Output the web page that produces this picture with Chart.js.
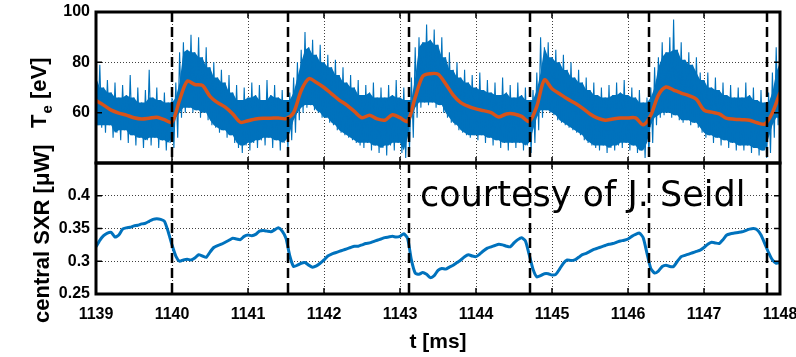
<!DOCTYPE html>
<html>
<head>
<meta charset="utf-8">
<script src="https://cdn.jsdelivr.net/npm/chart.js@4.4.0/dist/chart.umd.min.js"></script>
<style>
  html, body { margin: 0; padding: 0; background: #fff; }
  #wrap { position: relative; width: 796px; height: 357px; }
  #wrap canvas { position: absolute; left: 0; top: 0; }
</style>
</head>
<body>
<div id="wrap">
  <canvas id="sxrChart" width="796" height="357"></canvas>
  <canvas id="teChart" width="796" height="357"></canvas>
</div>
<script>
// time base of the raw signals (ms)
const tStart = 1139;
const rawStep = 0.05;
const smoothStep = 0.1;

// Te noisy signal: upper / lower swings every 0.05 ms [eV]
const teHigh = [
  74,79,70,73,68,72,66,71,67,75,66,70,64,69,77,66,70,65,68,64,
  66,72,84,88,85,91,84,90,82,86,78,80,74,77,72,75,68,71,65,70,
  66,72,67,71,65,73,67,71,66,69,65,68,74,80,85,92,86,89,83,87,
  80,83,78,81,75,78,72,75,70,73,67,71,68,72,66,70,66,71,67,73,
  66,70,65,74,86,90,88,95,89,93,87,90,82,84,77,80,74,77,72,75,
  70,76,69,73,68,72,67,74,68,71,66,72,67,70,65,69,76,90,86,88,
  82,85,80,83,77,80,74,77,72,74,69,72,67,70,66,71,67,72,68,73,
  67,70,66,69,64,66,70,78,82,88,84,90,97,85,88,81,84,79,82,76,
  73,76,70,74,69,72,67,71,66,70,66,72,67,70,65,69,64,68,76,86,
  80
];
const teLow = [
  55,54,52,55,50,52,49,53,48,51,47,50,46,49,47,50,46,49,45,48,
  46,50,58,60,62,60,61,58,60,57,55,54,52,53,50,51,48,46,44,47,
  45,48,46,49,47,50,46,49,45,48,45,49,52,57,60,62,63,61,60,58,
  58,56,55,53,52,51,50,49,48,47,46,48,45,47,44,46,43,47,45,48,
  44,42,45,50,58,62,64,63,64,62,63,60,58,56,55,53,52,51,50,51,
  49,51,48,50,47,49,46,48,45,48,46,48,45,47,44,48,53,58,61,60,
  59,57,56,55,54,53,52,51,49,48,47,46,45,47,44,46,45,47,46,48,
  45,47,44,45,42,43,48,55,58,59,60,58,59,57,56,57,55,56,54,52,
  50,51,48,50,47,49,46,48,45,47,45,47,44,46,43,45,42,44,50,55,
  58
];
// Te smoothed, every 0.1 ms [eV]
const teSmooth = [
  64.8,63,61,59.8,59,58,57.5,57.8,58.2,57.2,
  56.2,65,72.5,71.2,70.8,66.5,64,62.2,59.5,56.2,
  56.8,57.5,57.8,57.8,57.9,57.6,60,68.8,73.5,72,
  70,67.5,65,63,60.5,58,59,57.5,57,59.2,
  58,56.5,66,74.5,75.5,75.3,71.5,67,64,62.5,
  61.5,60.8,60,58.3,59.5,59.5,58.5,56.5,62.5,73,
  69.5,67.5,65.5,63.8,61.8,59.5,57.8,57,57.5,57.9,
  57.9,57.9,55.2,59,67,70.2,69,67.8,66.8,65.3,
  61,60.2,59.5,57.7,57.4,57.2,57,56,55.5,60,
  68
];
// central SXR every 0.05 ms [uW]
const sxr = [
  0.322,0.332,0.339,0.343,0.344,0.337,0.340,0.349,0.351,0.352,0.354,0.355,0.357,0.358,0.361,0.364,0.365,0.364,0.361,0.345,
  0.325,0.308,0.300,0.302,0.303,0.302,0.305,0.310,0.308,0.306,0.314,0.321,0.324,0.326,0.329,0.332,0.335,0.334,0.333,0.338,
  0.340,0.339,0.341,0.346,0.347,0.346,0.345,0.348,0.351,0.346,0.335,0.308,0.292,0.294,0.297,0.298,0.294,0.291,0.293,0.297,
  0.302,0.308,0.311,0.313,0.315,0.317,0.319,0.321,0.323,0.323,0.325,0.327,0.328,0.330,0.332,0.334,0.336,0.337,0.338,0.337,
  0.338,0.342,0.335,0.302,0.282,0.280,0.283,0.280,0.275,0.278,0.286,0.289,0.288,0.291,0.294,0.298,0.302,0.307,0.310,0.308,
  0.307,0.311,0.316,0.320,0.322,0.324,0.326,0.325,0.323,0.322,0.328,0.333,0.336,0.331,0.310,0.288,0.276,0.278,0.281,0.281,
  0.279,0.280,0.288,0.297,0.302,0.301,0.302,0.306,0.310,0.312,0.315,0.318,0.320,0.322,0.324,0.326,0.327,0.329,0.331,0.332,
  0.334,0.338,0.341,0.343,0.336,0.312,0.289,0.282,0.285,0.292,0.294,0.292,0.292,0.300,0.307,0.309,0.311,0.313,0.315,0.317,
  0.321,0.326,0.329,0.328,0.327,0.333,0.340,0.342,0.343,0.344,0.345,0.347,0.349,0.350,0.348,0.340,0.327,0.313,0.302,0.297,
  0.298
];
// sawtooth crash times (dashed lines)
const crashTimes = [1140.0, 1141.52, 1143.12, 1144.71, 1146.27, 1147.83];

const xTicks = [1139, 1140, 1141, 1142, 1143, 1144, 1145, 1146, 1147, 1148];
const teTicks = [60, 80, 100];
const sxrTicks = [0.25, 0.3, 0.35, 0.4];

const BLUE = '#0072BD';
const ORANGE = '#D95319';
const FONT = '"Liberation Sans", Arial, Helvetica, sans-serif';
const tickFont = { family: FONT, size: 16, weight: 'bold' };

// build point lists for the library
const highPoints = teHigh.map((v, i) => ({ x: tStart + i * rawStep, y: v }));
const lowPoints = teLow.map((v, i) => ({ x: tStart + i * rawStep + rawStep / 2, y: v }));
const tePoints = [];
teHigh.forEach((v, i) => {
  tePoints.push(highPoints[i]);
  tePoints.push(lowPoints[i]);
});
// dense core of the noisy band: where neighbouring swings overlap
const near = (arr, i) => [arr[Math.max(i - 1, 0)], arr[i], arr[Math.min(i + 1, arr.length - 1)]];
const coreHigh = teHigh.map((v, i) => ({ x: tStart + i * rawStep, y: Math.min(...near(teHigh, i)) }));
const coreLow = teLow.map((v, i) => ({ x: tStart + i * rawStep, y: Math.max(...near(teLow, i)) }));
const smoothPoints = teSmooth.map((v, i) => ({ x: tStart + i * smoothStep, y: v }));
const sxrPoints = sxr.map((v, i) => ({ x: tStart + i * rawStep, y: v }));

function drawFrame(chart, yTickVals) {
  const { ctx, chartArea: a, scales: { x, y } } = chart;
  ctx.save();
  ctx.strokeStyle = '#000';
  // crash lines
  ctx.lineWidth = 2.5;
  ctx.setLineDash([10, 5]);
  crashTimes.forEach(t => {
    const px = Math.round(x.getPixelForValue(t));
    ctx.beginPath();
    ctx.moveTo(px, a.top);
    ctx.lineTo(px, a.bottom);
    ctx.stroke();
  });
  ctx.setLineDash([]);
  // inner tick marks
  ctx.lineWidth = 1.5;
  ctx.beginPath();
  xTicks.forEach(t => {
    const px = x.getPixelForValue(t);
    ctx.moveTo(px, a.bottom); ctx.lineTo(px, a.bottom - 6);
    ctx.moveTo(px, a.top); ctx.lineTo(px, a.top + 6);
  });
  yTickVals.forEach(v => {
    const py = y.getPixelForValue(v);
    ctx.moveTo(a.left, py); ctx.lineTo(a.left + 6, py);
    ctx.moveTo(a.right, py); ctx.lineTo(a.right - 6, py);
  });
  ctx.stroke();
  // box
  ctx.lineWidth = 3;
  ctx.strokeRect(a.left, a.top, a.right - a.left, a.bottom - a.top);
  ctx.restore();
}

function xScale(showLabels) {
  return {
    type: 'linear',
    min: 1139,
    max: 1148,
    afterBuildTicks: s => { s.ticks = xTicks.map(v => ({ value: v })); },
    afterFit: s => {
      s.paddingLeft = 0; s.paddingRight = 0;
      s.height = showLabels ? 63 : 0;
    },
    grid: { color: 'rgba(0,0,0,0.75)', lineWidth: 1, drawTicks: false },
    border: { display: false, dash: [1, 2] },
    ticks: {
      display: showLabels,
      color: '#000',
      font: tickFont,
      padding: 11,
      maxRotation: 0,
      callback: v => String(v)
    },
    title: {
      display: showLabels,
      text: 't [ms]',
      color: '#000',
      font: { family: FONT, size: 21, weight: 'bold' },
      padding: { top: 0, bottom: 2 }
    }
  };
}

function yScale(min, max, tickVals) {
  return {
    min: min,
    max: max,
    afterBuildTicks: s => { s.ticks = tickVals.map(v => ({ value: v })); },
    afterFit: s => { s.width = 96; s.paddingTop = 0; s.paddingBottom = 0; },
    grid: { color: 'rgba(0,0,0,0.75)', lineWidth: 1, drawTicks: false },
    border: { display: false, dash: [1, 2] },
    ticks: { color: '#000', font: tickFont, padding: 6, callback: v => String(v) }
  };
}

const commonOpts = {
  responsive: false,
  animation: false,
  events: [],
  plugins: { legend: { display: false }, tooltip: { enabled: false } }
};

// top panel: Te
new Chart(document.getElementById('teChart').getContext('2d'), {
  type: 'line',
  data: {
    datasets: [
      {
        // core of the noisy band, filled
        data: coreHigh,
        borderWidth: 0,
        borderColor: 'rgba(0,0,0,0)',
        backgroundColor: BLUE,
        pointRadius: 0,
        fill: '+1',
        order: 4
      },
      {
        data: coreLow,
        borderWidth: 0,
        borderColor: 'rgba(0,0,0,0)',
        pointRadius: 0,
        fill: false,
        order: 3
      },
      {
        data: tePoints,
        borderColor: BLUE,
        borderWidth: 1.1,
        pointRadius: 0,
        tension: 0,
        order: 2
      },
      {
        data: smoothPoints,
        borderColor: ORANGE,
        borderWidth: 3.5,
        pointRadius: 0,
        tension: 0.3,
        order: 1
      }
    ]
  },
  options: {
    ...commonOpts,
    layout: { padding: { left: 0, top: 12, right: 16, bottom: 194 } },
    scales: { x: xScale(false), y: yScale(40, 100, teTicks) }
  },
  plugins: [{
    id: 'teDecor',
    afterDatasetsDraw(chart) { drawFrame(chart, teTicks); },
    afterDraw(chart) {
      const ctx = chart.ctx;
      ctx.save();
      ctx.fillStyle = '#000';
      ctx.translate(46, 128);
      ctx.rotate(-Math.PI / 2);
      ctx.textBaseline = 'alphabetic';
      ctx.font = 'bold 22px ' + FONT;
      ctx.fillText('T', 0, 0);
      let w = ctx.measureText('T').width;
      ctx.font = 'bold 15px ' + FONT;
      ctx.fillText('e', w + 1, 6);
      w += ctx.measureText('e').width + 1;
      ctx.font = 'bold 22px ' + FONT;
      ctx.fillText(' [eV]', w, 0);
      ctx.restore();
    }
  }]
});

// bottom panel: central SXR
new Chart(document.getElementById('sxrChart').getContext('2d'), {
  type: 'line',
  data: {
    datasets: [{
      data: sxrPoints,
      borderColor: BLUE,
      borderWidth: 3,
      pointRadius: 0,
      tension: 0.2
    }]
  },
  options: {
    ...commonOpts,
    layout: { padding: { left: 0, top: 163, right: 16, bottom: 0 } },
    scales: { x: xScale(true), y: yScale(0.25, 0.45, sxrTicks) }
  },
  plugins: [{
    id: 'sxrDecor',
    afterDatasetsDraw(chart) { drawFrame(chart, sxrTicks); },
    afterDraw(chart) {
      const ctx = chart.ctx;
      ctx.save();
      ctx.fillStyle = '#000';
      ctx.font = '35px "DejaVu Sans", sans-serif';
      ctx.textBaseline = 'alphabetic';
      ctx.fillText('courtesy of J. Seidl', 420, 206);
      ctx.translate(49, 323);
      ctx.rotate(-Math.PI / 2);
      ctx.font = 'bold 22px ' + FONT;
      ctx.fillText('central SXR [\u03BCW]', 0, 0);
      ctx.restore();
    }
  }]
});
</script>
</body>
</html>
